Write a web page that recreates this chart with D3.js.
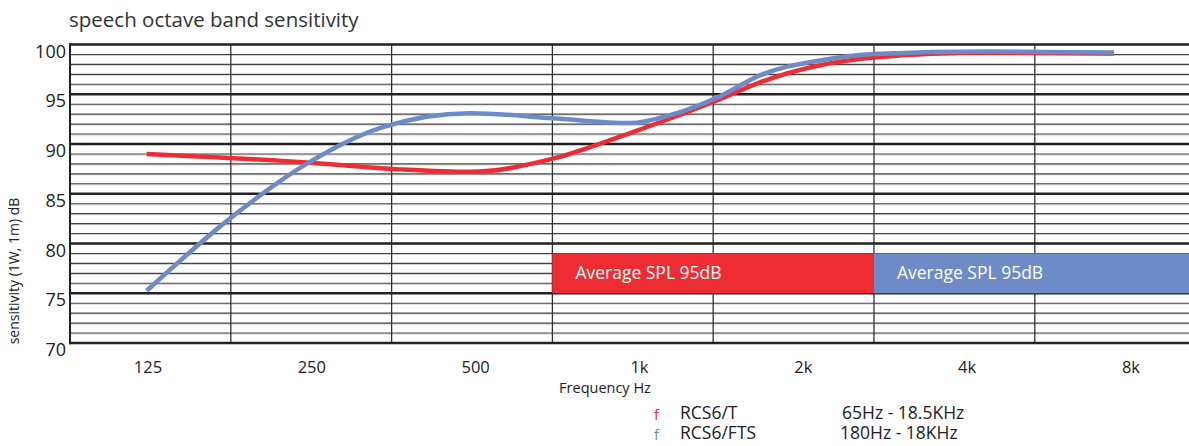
<!DOCTYPE html>
<html><head><meta charset="utf-8">
<script src="https://cdn.jsdelivr.net/npm/d3@7"></script>
<style>
html,body{margin:0;padding:0;background:#fff;}
svg{display:block;font-family:"Open Sans","Noto Sans",sans-serif;}
</style></head>
<body><svg id="c" width="1189" height="446"></svg>
<script>
// ---- data ----
const redFreqs  = [123, 245, 367, 496, 706, 988, 1456, 1730, 2829, 4663, 7960];
const redVals   = [89.0, 88.15, 87.45, 87.2, 88.5, 91.1, 94.5, 96.2, 98.7, 99.2, 99.1];
const blueFreqs = [123, 177, 245, 336, 496, 706, 988, 1174, 1456, 1730, 2270, 2829, 4663, 7960];
const blueVals  = [75.25, 82.6, 88.0, 91.6, 93.1, 92.6, 92.1, 92.9, 94.8, 96.9, 98.45, 99.05, 99.3, 99.2];
const tickLabels = ["125", "250", "500", "1k", "2k", "4k", "8k"];
const gridFreqs = [88.39, 176.8, 353.6, 707.1, 1414, 2828, 5657];
const yTicks = [70, 75, 80, 85, 90, 95, 100];
const bandStart = [707.1, 2828];
const bandEnd = [2828, 11314];
const bandLow = [75, 75];
const bandHigh = [79, 79];
const bandText = ["Average SPL 95dB", "Average SPL 95dB"];
const legendNames = ["RCS6/T", "RCS6/FTS"];
const legendRanges = ["65Hz - 18.5KHz", "180Hz - 18KHz"];
const RED = "#ed2d33", BLUE = "#6d8bc7";
const colors = [RED, BLUE];

const svg = d3.select("#c");
const W = 1189;
const x = d3.scaleLog().base(2).domain([88.39, 88.39 * 128]).range([70, 70 + 7 * 160.8]);
const y = d3.scaleLinear().domain([70, 100]).range([343, 44.5]);
const xl = d3.scalePoint().domain(tickLabels).range([148, 1131]);

// title
svg.append("text").attr("x", 69).attr("y", 27).attr("font-size", 20.5).attr("fill", "#333")
  .text("speech octave band sensitivity");

const g = svg.append("g");
// minor horizontal lines
d3.range(71, 100).filter(v => v % 5 !== 0).forEach(v => {
  g.append("line").attr("x1", 70).attr("x2", W).attr("y1", y(v) + 1).attr("y2", y(v) + 1)
    .attr("stroke", "#cfcfcf").attr("stroke-width", 1);
  g.append("line").attr("x1", 70).attr("x2", W).attr("y1", y(v)).attr("y2", y(v))
    .attr("stroke", "#444").attr("stroke-width", 1.1);
});
// vertical lines
gridFreqs.forEach(f => {
  g.append("line").attr("x1", x(f)).attr("x2", x(f)).attr("y1", y(100)).attr("y2", y(70))
    .attr("stroke", "#333").attr("stroke-width", 1.3);
});
// major lines
yTicks.forEach(v => {
  g.append("line").attr("x1", 69).attr("x2", W).attr("y1", y(v)).attr("y2", y(v))
    .attr("stroke", "#222").attr("stroke-width", 2.6);
});
g.append("line").attr("x1", 70).attr("x2", 70).attr("y1", y(100) - 1.3).attr("y2", y(70) + 1.3)
  .attr("stroke", "#222").attr("stroke-width", 2);

// y labels
yTicks.forEach(v => {
  svg.append("text").attr("x", 66).attr("y", y(v) + 13).attr("text-anchor", "end")
    .attr("font-size", 18).attr("fill", "#222").text(v);
});
svg.append("text").attr("transform", "translate(19,271) rotate(-90)").attr("text-anchor", "middle")
  .attr("font-size", 14).attr("fill", "#222").text("sensitivity (1W, 1m) dB");

// x labels
tickLabels.forEach(t => {
  svg.append("text").attr("x", xl(t)).attr("y", 373).attr("text-anchor", "middle")
    .attr("font-size", 16.5).attr("fill", "#222").text(t);
});
svg.append("text").attr("x", 605).attr("y", 393).attr("text-anchor", "middle")
  .attr("font-size", 14.5).attr("fill", "#222").text("Frequency Hz");

// bands
bandStart.forEach((s, i) => {
  const x0 = x(s), x1 = Math.min(x(bandEnd[i]), W);
  svg.append("rect").attr("x", x0).attr("y", y(bandHigh[i])).attr("width", x1 - x0)
    .attr("height", y(bandLow[i]) - y(bandHigh[i])).attr("fill", colors[i]);
  svg.append("text").attr("x", x0 + 23).attr("y", (y(bandHigh[i]) + y(bandLow[i])) / 2 + 6)
    .attr("font-size", 17.5).attr("fill", "#fff").text(bandText[i]);
});

// curves
const line = d3.line().x(d => x(d[0])).y(d => y(d[1])).curve(d3.curveMonotoneX);
svg.append("path").datum(redFreqs.map((f, i) => [f, redVals[i]])).attr("d", line)
  .attr("fill", "none").attr("stroke", RED).attr("stroke-width", 4.5);
svg.append("path").datum(blueFreqs.map((f, i) => [f, blueVals[i]])).attr("d", line)
  .attr("fill", "none").attr("stroke", BLUE).attr("stroke-width", 4.5);

// legend
legendNames.forEach((n, i) => {
  const yy = 419 + i * 20;
  svg.append("text").attr("x", 654).attr("y", yy + 1).attr("font-size", 15).attr("fill", colors[i]).text("f");
  svg.append("text").attr("x", 680).attr("y", yy).attr("font-size", 17.5).attr("fill", "#222").text(n);
  svg.append("text").attr("x", i === 0 ? 842 : 840).attr("y", yy).attr("font-size", 17.5).attr("fill", "#222").text(legendRanges[i]);
});
</script></body></html>
